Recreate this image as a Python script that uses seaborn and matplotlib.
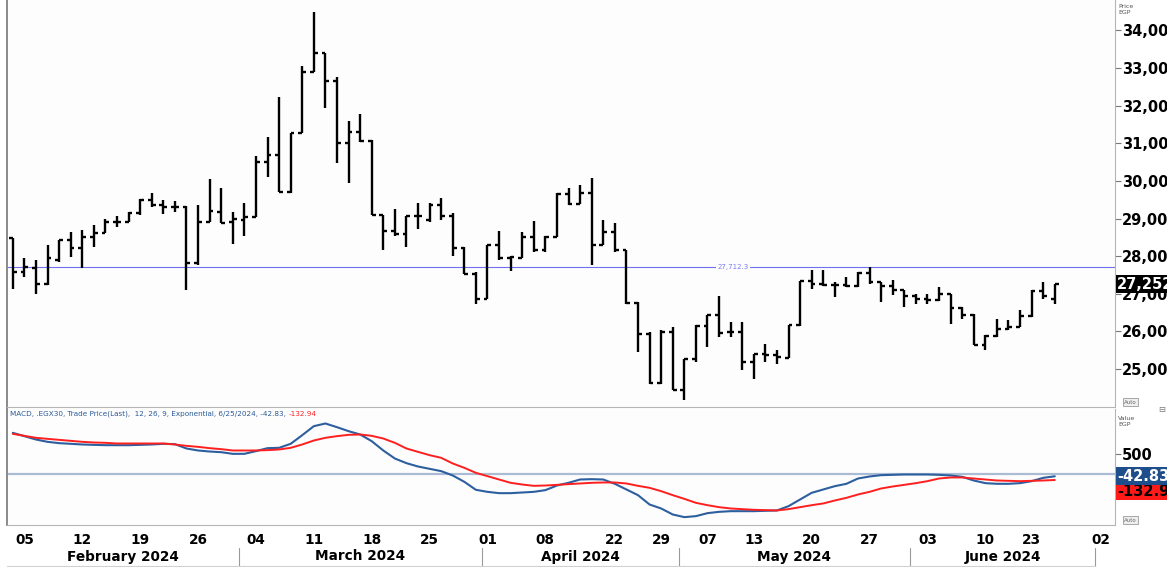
import matplotlib
matplotlib.use("Agg")
import matplotlib.pyplot as plt
import matplotlib.transforms as mtransforms
import seaborn as sns
import pandas as pd
import numpy as np

# EGX30 daily OHLC, 4 Feb - 25 Jun 2024 (trading days Sun-Thu)
opens = [28470, 27583, 27672, 27273, 27894, 28426, 28204, 28514, 28603, 28913,
         28913, 29135, 29490, 29357, 29312, 29312, 27805, 28913, 29179, 28913,
         28958, 29046, 30509, 30687, 29711, 31281, 32903, 33391, 32664, 30997,
         31307, 31068, 29091, 28665, 28580, 29064, 28958, 29357, 29073, 28222,
         27539, 26856, 28293, 27938, 27938, 28514, 28160, 28497, 29640, 29383,
         29667, 28293, 28647, 28160, 26759, 25943, 24639, 25987, 24453, 25260,
         26138, 26431, 25987, 25987, 25189, 25393, 25366, 25304, 26164, 27344,
         27273, 27246, 27229, 27211, 27565, 27317, 27202, 27096, 26936, 26874,
         26830, 26989, 26634, 26430, 25632, 25872, 26076, 26120, 26404, 27078,
         26874]
highs = [28470, 27938, 27894, 28293, 28426, 28647, 28692, 28825, 28975, 29064,
         29179, 29507, 29685, 29490, 29463, 29330, 29357, 30039, 29800, 29179,
         29419, 30660, 31174, 32221, 31281, 33063, 34500, 33391, 32753, 31600,
         31777, 31086, 29091, 29250, 29064, 29401, 29401, 29534, 29135, 28248,
         27583, 28293, 28665, 28000, 28638, 28931, 28532, 29667, 29818, 29889,
         30066, 28958, 28887, 28177, 26785, 25987, 26032, 26120, 25278, 26165,
         26431, 26936, 26253, 26253, 25411, 25677, 25500, 26164, 27344, 27645,
         27628, 27317, 27450, 27583, 27699, 27317, 27379, 27113, 27007, 26989,
         27167, 26989, 26652, 26457, 25898, 26342, 26315, 26563, 27096, 27317,
         27255]
lows = [27140, 27450, 27007, 27229, 27849, 27982, 27672, 28248, 28603, 28780,
        28913, 29091, 29312, 29117, 29179, 27096, 27761, 28913, 28869, 28319,
        28532, 29046, 30110, 29711, 29685, 31281, 32903, 31928, 30465, 29951,
        31041, 29091, 28160, 28540, 28248, 28718, 28913, 28958, 28000, 27521,
        26723, 26856, 27911, 27610, 27938, 28115, 28115, 28497, 29357, 29383,
        27761, 28293, 28115, 26741, 25455, 24612, 24612, 24435, 24169, 25189,
        25588, 25854, 25854, 24967, 24746, 25189, 25145, 25304, 26138, 27140,
        27202, 26918, 27167, 27167, 27255, 26785, 26963, 26652, 26723, 26723,
        26812, 26209, 26342, 25632, 25500, 25854, 26049, 26120, 26386, 26874,
        26723]
closes = [27583, 27716, 27273, 27938, 28426, 28204, 28497, 28603, 28913, 28913,
          29135, 29490, 29357, 29312, 29295, 27805, 28913, 29206, 28887, 28975,
          29046, 30509, 30687, 29711, 31281, 32903, 33391, 32664, 30997, 31307,
          31068, 29091, 28665, 28580, 29064, 29064, 29357, 29073, 28222, 27539,
          26856, 28293, 27938, 27965, 28514, 28160, 28497, 29640, 29383, 29667,
          28293, 28647, 28160, 26759, 25943, 24639, 25987, 24453, 25260, 26138,
          26431, 25961, 25987, 25189, 25393, 25366, 25322, 26164, 27344, 27273,
          27229, 27246, 27211, 27565, 27317, 27202, 27096, 26936, 26874, 26830,
          26989, 26634, 26430, 25632, 25872, 26076, 26120, 26404, 27078, 26936,
          27252]

# MACD (12, 26, 9) and its signal line
macd = [1006, 926, 845, 789, 757, 741, 725, 716, 708, 708,
        708, 716, 725, 741, 733, 628, 580, 555, 539, 499,
        499, 564, 636, 644, 741, 950, 1167, 1232, 1143, 1047,
        966, 805, 580, 386, 274, 193, 137, 81, -24, -177,
        -370, -419, -451, -451, -435, -419, -378, -266, -201, -121,
        -113, -121, -225, -362, -499, -725, -821, -966, -1030, -1006,
        -934, -902, -886, -886, -886, -877, -869, -765, -604, -443,
        -362, -282, -225, -97, -48, -16, -8, 0, 0, 0,
        -8, -24, -56, -145, -209, -225, -225, -209, -161, -81,
        -43]
signal = [982, 934, 886, 861, 837, 813, 789, 773, 765, 749,
          749, 749, 749, 749, 725, 692, 668, 636, 612, 580,
          580, 580, 588, 604, 644, 725, 821, 886, 926, 958,
          966, 934, 869, 765, 628, 547, 467, 403, 266, 161,
          40, -40, -121, -201, -242, -274, -266, -250, -233, -217,
          -201, -193, -193, -217, -274, -322, -403, -499, -588, -684,
          -741, -789, -821, -837, -853, -861, -869, -837, -789, -741,
          -700, -628, -564, -483, -419, -338, -290, -250, -209, -161,
          -97, -72, -72, -97, -121, -145, -153, -161, -153, -145,
          -133]
macd_last = -42.83
signal_last = -132.94
ref_level = 27712.3

price_ticks = [25000, 26000, 27000, 28000, 29000, 30000, 31000, 32000, 33000, 34000]
macd_ticks = [500]

holidays = ['2024-04-09', '2024-04-10', '2024-04-11', '2024-04-14', '2024-04-25',
            '2024-05-01', '2024-05-06', '2024-06-16', '2024-06-17', '2024-06-18',
            '2024-06-19', '2024-06-20', '2024-07-01']
axis_days = pd.bdate_range('2024-02-04', '2024-07-02', freq='C',
                           weekmask='Sun Mon Tue Wed Thu', holidays=holidays)

tick_dates = ['2024-02-05', '2024-02-12', '2024-02-19', '2024-02-26', '2024-03-04',
              '2024-03-11', '2024-03-18', '2024-03-25', '2024-04-01', '2024-04-08',
              '2024-04-22', '2024-04-29', '2024-05-07', '2024-05-13', '2024-05-20',
              '2024-05-27', '2024-06-03', '2024-06-10', '2024-06-23', '2024-07-02']
tick_labels = ['05', '12', '19', '26', '04', '11', '18', '25', '01', '08',
               '22', '29', '07', '13', '20', '27', '03', '10', '23', '02']
month_labels = ['February 2024', 'March 2024', 'April 2024', 'May 2024', 'June 2024']

sns.set_style('white')
plt.rcParams['font.family'] = ['DejaVu Sans']
plt.rcParams['text.color'] = 'black'
plt.rcParams['ytick.color'] = 'black'

W, H = 1167, 567
fig = plt.figure(figsize=(W / 100, H / 100), dpi=100)
fig.patch.set_facecolor('white')


def box(x0, y0, x1, y1):
    return [x0 / W, 1 - y1 / H, (x1 - x0) / W, (y1 - y0) / H]


ax = fig.add_axes(box(7, 0, 1115, 407))
ax2 = fig.add_axes(box(7, 409, 1115, 525), sharex=ax)
axd = fig.add_axes(box(7, 525, 1115, 567), sharex=ax)

for a in (ax, ax2):
    a.set_facecolor('#fdfdfd')
    for s in a.spines.values():
        s.set_color('#b5b5b5')
        s.set_linewidth(0.8)
    a.spines['top'].set_visible(False)
    a.spines['left'].set_color('#8a8a8a')
    a.spines['left'].set_linewidth(1.4)

# price bars
x = np.arange(len(closes))
ax.vlines(x, lows, highs, color='black', lw=1.7)
ax.hlines(opens, x - 0.33, x, color='black', lw=1.7)
ax.hlines(closes, x, x + 0.33, color='black', lw=1.7)
ax.axhline(ref_level, color='#7070f0', lw=0.8, zorder=0)
ax.text(62.2, ref_level, f'{ref_level:,.1f}', fontsize=5, color='#7b7bf0',
        ha='center', va='center', bbox=dict(fc='#fdfdfd', ec='none', pad=0.8))

ax.set_xlim(-0.5, 95.2)
ax.set_ylim(23990, 34810)
ax.yaxis.tick_right()
ax.set_yticks(price_ticks)
ax.set_yticklabels([f'{v:,}' for v in price_ticks], fontweight='bold', fontsize=10.5)
ax.tick_params(axis='y', length=4, width=0.8, color='#777', pad=1)
ax.tick_params(axis='x', bottom=False, labelbottom=False)

trans = mtransforms.blended_transform_factory(ax.transAxes, ax.transData)
ax.text(1.002, closes[-1], f'{closes[-1]:,}', transform=trans, color='white',
        fontweight='bold', fontsize=10.5, va='center', ha='left',
        bbox=dict(fc='black', ec='none', pad=1.0), zorder=5)

# MACD panel
ax2.axhline(0, color='#a9bcd3', lw=1.6, zorder=0)
sns.lineplot(x=x, y=macd, ax=ax2, color='#2d5f9e', lw=1.5)
sns.lineplot(x=x, y=signal, ax=ax2, color='#ff1f1f', lw=1.4)
ax2.set_ylim(-1220, 1582)
ax2.set_ylabel('')
ax2.yaxis.tick_right()
ax2.set_yticks(macd_ticks)
ax2.set_yticklabels([str(v) for v in macd_ticks], fontweight='bold', fontsize=10.5)
ax2.tick_params(axis='y', length=4, width=0.8, color='#777', pad=1)
ax2.set_xticks(np.arange(len(axis_days)))
ax2.tick_params(axis='x', length=2, width=0.6, color='#999', labelbottom=False)

trans2 = mtransforms.blended_transform_factory(ax2.transAxes, ax2.transData)
ax2.text(1.002, macd_last, f'{macd_last:.2f}', transform=trans2, color='white',
         fontweight='bold', fontsize=10.5, va='center', ha='left',
         bbox=dict(fc='#1f4e8c', ec='none', pad=1.0), zorder=6)
ax2.annotate(f'{signal_last:.2f}', xy=(1.002, signal_last), xycoords=trans2,
             xytext=(0, -8), textcoords='offset points', color='black',
             fontweight='bold', fontsize=10.5, va='center', ha='left',
             bbox=dict(fc='#ff1a1a', ec='none', pad=1.0), zorder=5)

head = ax2.text(0.003, 0.985, f'MACD, .EGX30, Trade Price(Last),  12, 26, 9, Exponential, '
                f'6/25/2024, {macd_last:.2f}, ', transform=ax2.transAxes,
                fontsize=5.2, color='#2a5a98', va='top', ha='left')
ax2.annotate(f'{signal_last:.2f}', xy=(1, 0), xycoords=head, fontsize=5.2,
             color='#ff2020', va='bottom', ha='left')

# date band
axd.axis('off')
axd.set_ylim(0, 1)
day_pos = [axis_days.get_loc(pd.Timestamp(d)) for d in tick_dates]
for p, lab in zip(day_pos, tick_labels):
    axd.text(p, 0.64, lab, fontsize=9.8, fontweight='bold', ha='center', va='center')
months = axis_days.to_period('M')
bounds = [-0.5] + [i - 0.5 for i in range(1, len(axis_days)) if months[i] != months[i - 1]]
for b in bounds[1:]:
    axd.plot([b, b], [0, 0.45], color='#9a9a9a', lw=0.8)
for lab, b0, b1 in zip(month_labels, bounds[:-1], bounds[1:]):
    axd.text((b0 + b1) / 2, 0.25, lab, fontsize=9.8, fontweight='bold', ha='center', va='center')
axd.plot([-0.5, bounds[-1]], [0.02, 0.02], color='#d0d0d0', lw=0.8)

# labels on the right edge
fig.text(1118 / W, 1 - 4 / H, 'Price\nEGP', fontsize=4.5, color='#555', va='top', ha='left', linespacing=1.3)
fig.text(1118 / W, 1 - 416 / H, 'Value\nEGP', fontsize=4.5, color='#555', va='top', ha='left', linespacing=1.3)
for yy in (402, 520):
    fig.text(1124 / W, 1 - yy / H, 'Auto', fontsize=4, color='#666', va='center', ha='left',
             bbox=dict(fc='#eeeeee', ec='#888888', lw=0.5, pad=0.8))
fig.text(1158 / W, 1 - 410 / H, '\u229f', fontsize=6, color='#777', va='center', ha='left')

fig.savefig('out.png', dpi=100)
